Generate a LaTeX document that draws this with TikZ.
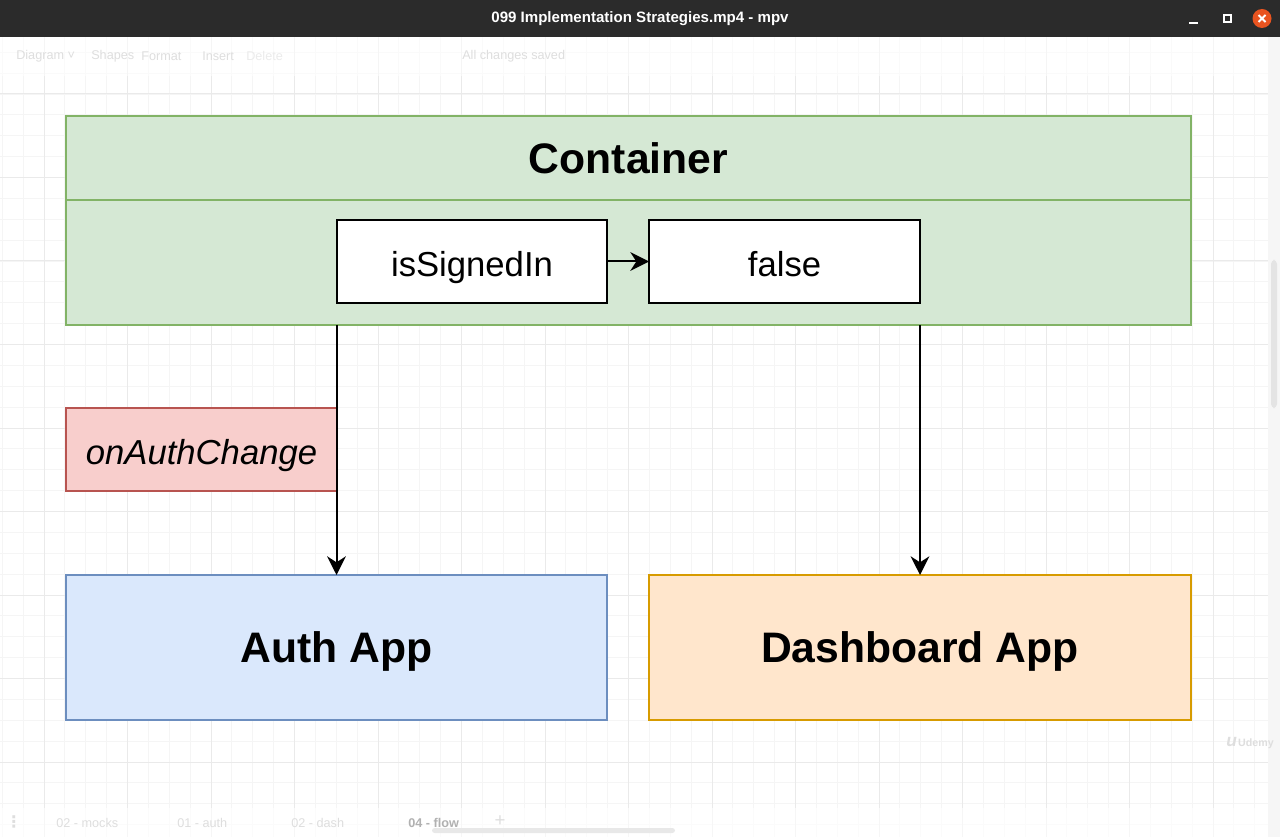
\documentclass[tikz,border=0pt]{standalone}
\usepackage{fontspec}
\setmainfont{Liberation Sans}
\newfontfamily\symfont{DejaVu Sans}
\usetikzlibrary{arrows.meta}
\definecolor{titlebg}{HTML}{2B2B2B}
\definecolor{closeor}{HTML}{E95420}
\definecolor{gminor}{HTML}{F5F5F5}
\definecolor{gmajor}{HTML}{EAEAEA}
\definecolor{faint}{HTML}{DEDEDE}
\definecolor{stripbg}{HTML}{F6F6F6}
\definecolor{thumb}{HTML}{E4E4E4}
\definecolor{greenF}{HTML}{D5E8D4}
\definecolor{greenD}{HTML}{82B366}
\definecolor{redF}{HTML}{F8CECC}
\definecolor{redD}{HTML}{B85450}
\definecolor{blueF}{HTML}{DAE8FC}
\definecolor{blueD}{HTML}{6C8EBF}
\definecolor{orF}{HTML}{FFE6CC}
\definecolor{orD}{HTML}{D79B00}
\tikzset{
  box/.style={draw, line width=1.6pt, inner sep=0pt, outer sep=0pt, anchor=north west, align=center},
  bigtxt/.style={font=\fontsize{32}{36}\selectfont\bfseries, text height=22pt, text depth=0pt},
  midtxt/.style={font=\fontsize{26}{30}\selectfont, text height=22pt, text depth=0pt},
  conn/.style={line width=1.5pt, -{Stealth[length=14pt,width=14pt,inset=4.5pt]}},
  faintxt/.style={text=faint, font=\fontsize{9.5}{11}\selectfont, inner sep=0pt},
}
\begin{document}
\begin{tikzpicture}[x=0.75pt, y=-0.75pt]
\useasboundingbox (0,0) rectangle (1280,837);
% canvas
\fill[white] (0,37) rectangle (1280,837);
\begin{scope}
\clip (0,37) rectangle (1268,837);
\foreach \i in {0,...,64} {
  \draw[gminor, line width=0.6pt] ({-39.5+\i*20.875},37) -- ({-39.5+\i*20.875},837);
}
\foreach \i in {0,...,42} {
  \draw[gminor, line width=0.6pt] (0,{10.5+\i*20.875}) -- (1280,{10.5+\i*20.875});
}
\foreach \i in {0,...,16} {
  \draw[gmajor, line width=0.75pt] ({-39.5+\i*83.5},37) -- ({-39.5+\i*83.5},837);
}
\foreach \i in {0,...,10} {
  \draw[gmajor, line width=0.75pt] (0,{10.5+\i*83.5}) -- (1280,{10.5+\i*83.5});
}
\end{scope}
% right strip and scrollbar
\fill[stripbg] (1268,37) rectangle (1280,837);
\fill[thumb, rounded corners=3pt] (1271,260) rectangle (1277,408);
% toolbar and bottom bar overlays
\fill[white, opacity=0.55] (0,37) rectangle (1268,76);
\fill[white, opacity=0.6] (0,808) rectangle (1268,837);
\node[faintxt, anchor=west] (tb1) at (16,56) {Diagram ˅};
\node[faintxt, anchor=west] (tb2) at (91,56) {Shapes};
\node[faintxt, anchor=west] (tb3) at (141,56) {Format};
\node[faintxt, anchor=west] (tb4) at (202,56) {Insert};
\node[faintxt, anchor=west, text=faint!60!white] (tb5) at (246,56) {Delete};
\node[faintxt, anchor=west] (tb6) at (462,56) {All changes saved};
\node[faintxt, anchor=west] (bt1) at (56,823) {02 - mocks};
\node[faintxt, anchor=west] (bt2) at (177,823) {01 - auth};
\node[faintxt, anchor=west] (bt3) at (291,823) {02 - dash};
\node[faintxt, anchor=west, text=faint!80!black] (bt4) at (408,823) {\bfseries 04 - flow};
\node[faintxt, anchor=center, font=\fontsize{14}{14}\selectfont] (bt5) at (500,821) {+};
\node[faintxt, anchor=center, font=\fontsize{12}{12}\selectfont\symfont\bfseries] (bt0) at (14,822) {⋮};
\fill[faint!70!white, rounded corners=2pt] (432,828) rectangle (675,833);
\node[text=faint, font=\fontsize{8}{9}\selectfont\bfseries, inner sep=0pt] (udemy) at (1250,743) {\textit{\fontsize{13}{13}\selectfont u}\kern1pt Udemy};
% title bar
\fill[titlebg] (0,0) rectangle (1280,37);
\node[text=white, font=\fontsize{11.3}{13}\selectfont\bfseries, inner sep=0pt] (title) at (640,18.5) {099 Implementation Strategies.mp4 - mpv};
\draw[white, line width=1.3pt] (1189,23) -- (1198,23);
\draw[white, line width=1.3pt] (1224,15) rectangle (1231,22);
\fill[closeor] (1262,18.5) circle (9.5);
\draw[white, line width=1.4pt] (1258.5,15) -- (1265.5,22) (1265.5,15) -- (1258.5,22);
% diagram
\node[box, fill=greenF, draw=greenD, minimum width={1125*0.75pt}, minimum height={84*0.75pt}, bigtxt, text height=23pt] (conthead) at (66,116) {Container};
\node[box, fill=greenF, draw=greenD, minimum width={1125*0.75pt}, minimum height={125*0.75pt}] (contbody) at (66,200) {};
\node[box, fill=white, draw=black, minimum width={270*0.75pt}, minimum height={83*0.75pt}, midtxt] (sig) at (337,220) {isSignedIn};
\node[box, fill=white, draw=black, minimum width={271*0.75pt}, minimum height={83*0.75pt}, midtxt] (val) at (649,220) {false};
\node[box, fill=redF, draw=redD, minimum width={271*0.75pt}, minimum height={83*0.75pt}, midtxt] (cb) at (66,408) {\itshape onAuthChange};
\node[box, fill=blueF, draw=blueD, minimum width={541*0.75pt}, minimum height={145*0.75pt}, bigtxt] (auth) at (66,575) {Auth App};
\node[box, fill=orF, draw=orD, minimum width={542*0.75pt}, minimum height={145*0.75pt}, bigtxt] (dash) at (649,575) {Dashboard App};
\draw[conn] (sig.east) -- (val.west);
\draw[conn] (auth.north |- contbody.south) -- (auth.north);
\draw[conn] (dash.north |- contbody.south) -- (dash.north);
\end{tikzpicture}
\end{document}
